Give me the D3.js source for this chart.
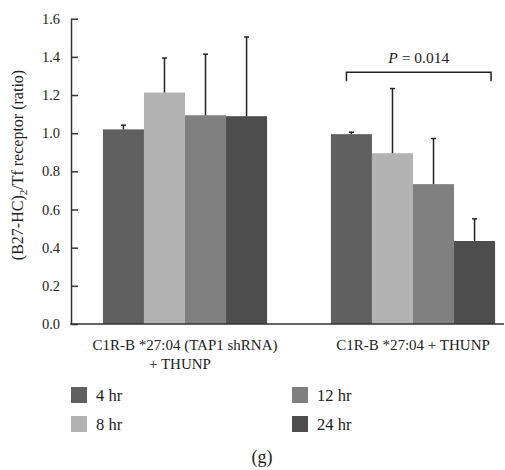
<!DOCTYPE html>
<html><head><meta charset="utf-8">
<script src="https://cdn.jsdelivr.net/npm/d3@7"></script>
<style>body{margin:0;background:#fff}svg{display:block}text{font-family:"Liberation Serif","DejaVu Serif",serif;fill:#222}</style>
</head><body><svg id="c" width="505" height="470"></svg>
<script>
const groups = ["C1R-B *27:04 (TAP1 shRNA)|+ THUNP", "C1R-B *27:04 + THUNP"];
const series = ["4 hr", "8 hr", "12 hr", "24 hr"];
const colors = ["#606060", "#b3b3b3", "#7f807f", "#4d4d4d"];
const values = [[1.02, 1.213, 1.094, 1.089], [0.995, 0.895, 0.733, 0.435]];
const errTops = [[1.042, 1.394, 1.414, 1.504], [1.005, 1.234, 0.972, 0.551]];
const yTicks = [0, 0.2, 0.4, 0.6, 0.8, 1.0, 1.2, 1.4, 1.6];
const pLabel = "= 0.014";

const svg = d3.select("#c");
const y = d3.scaleLinear().domain([0, 1.6]).range([324, 18.7]);
const x0 = d3.scaleBand().domain(d3.range(groups.length)).range([71, 527]).paddingInner(0.28).paddingOuter(0.14);
const x1 = d3.scaleBand().domain(d3.range(series.length)).range([0, x0.bandwidth()]);
const gx = i => x0(i);
const gw = x0.bandwidth();

const yAxis = d3.axisLeft(y).tickValues(yTicks).tickFormat(d3.format(".1f")).tickSizeInner(-7).tickSizeOuter(0).tickPadding(11);
const ya = svg.append("g").attr("transform", "translate(71,0)").call(yAxis);
ya.select(".domain").attr("stroke", "#333").attr("stroke-width", 1.5);
ya.selectAll(".tick line").attr("stroke", "#333").attr("stroke-width", 1.5);
ya.selectAll(".tick text").attr("font-size", 14.5).attr("font-family", "Liberation Serif").attr("fill", "#222");

const g = svg.append("g");
values.forEach((vals, gi) => {
  vals.forEach((v, si) => {
    const bx = gx(gi) + x1(si);
    const bw = x1.bandwidth();
    g.append("rect").attr("x", bx).attr("y", y(v)).attr("width", bw).attr("height", y(0) - y(v)).attr("fill", colors[si]);
    const cx = bx + bw / 2;
    g.append("line").attr("x1", cx).attr("x2", cx).attr("y1", y(v)).attr("y2", y(errTops[gi][si])).attr("stroke", "#222").attr("stroke-width", 1.5);
    g.append("line").attr("x1", cx - 2.5).attr("x2", cx + 2.5).attr("y1", y(errTops[gi][si])).attr("y2", y(errTops[gi][si])).attr("stroke", "#222").attr("stroke-width", 1.5);
  });
});

// x axis line
svg.append("line").attr("x1", 70.25).attr("x2", 504).attr("y1", y(0)).attr("y2", y(0)).attr("stroke", "#333").attr("stroke-width", 1.5);

// group labels
groups.forEach((lab, gi) => {
  const cx = gx(gi) + gw / 2;
  lab.split("|").forEach((line, li) => {
    svg.append("text").attr("x", cx - li * 5).attr("y", 350 + li * 18.5).attr("text-anchor", "middle").attr("font-size", 15).text(line);
  });
});

// y label
svg.append("text").attr("transform", "translate(23,165) rotate(-90)").attr("text-anchor", "middle").attr("font-size", 16)
  .html('(B27-HC)<tspan font-size="11" dy="4">2</tspan><tspan dy="-4">/Tf receptor (ratio)</tspan>');

// bracket
const bxL = gx(1) + x1.bandwidth() / 2 - 5, bxR = gx(1) + gw - 4;
const by = y(1.32);
svg.append("path").attr("d", `M${bxL},${by + 9}V${by}H${bxR}V${by + 9}`).attr("fill", "none").attr("stroke", "#222").attr("stroke-width", 1.5);
svg.append("text").attr("x", (bxL + bxR) / 2).attr("y", by - 9).attr("text-anchor", "middle").attr("font-size", 15.5)
  .html('<tspan font-style="italic">P</tspan> ' + pLabel);

// legend
series.forEach((s, i) => {
  const col = Math.floor(i / 2), row = i % 2;
  const lx = 71 + col * 221, ly = 387 + row * 29;
  svg.append("rect").attr("x", lx).attr("y", ly).attr("width", 16).attr("height", 16).attr("fill", colors[i]);
  svg.append("text").attr("x", lx + 25).attr("y", ly + 13.5).attr("font-size", 16.5).text(s);
});

svg.append("text").attr("x", 262).attr("y", 463).attr("text-anchor", "middle").attr("font-size", 18).text("(g)");
</script></body></html>
